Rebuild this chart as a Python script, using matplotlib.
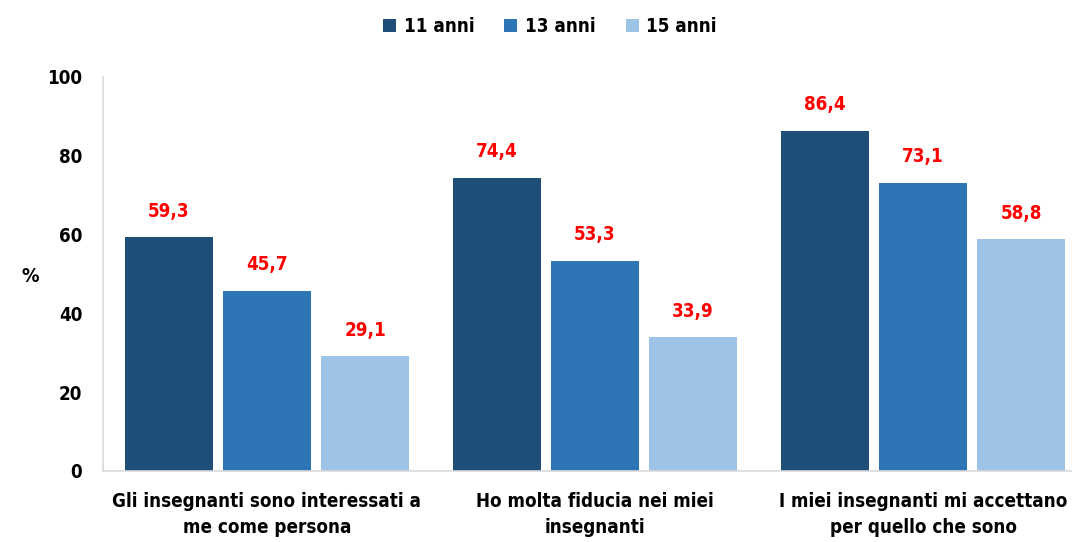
import numpy as np
import matplotlib
matplotlib.use("Agg")
import matplotlib.pyplot as plt

# data
categories = [
    "Gli insegnanti sono interessati a\nme come persona",
    "Ho molta fiducia nei miei\ninsegnanti",
    "I miei insegnanti mi accettano\nper quello che sono",
]
ages = ["11 anni", "13 anni", "15 anni"]
val_11 = [59.3, 74.4, 86.4]
val_13 = [45.7, 53.3, 73.1]
val_15 = [29.1, 33.9, 58.8]
yticks = [0, 20, 40, 60, 80, 100]

colors = ["#1F4E79", "#2E75B6", "#9DC3E6"]

plt.rcParams["font.family"] = ["DejaVu Sans"]
plt.rcParams["font.weight"] = "bold"
plt.rcParams["font.stretch"] = "condensed"

fig = plt.figure(figsize=(10.72, 5.42), dpi=100)
ax = fig.add_axes([0.096, 0.131, 0.905, 0.727])

x = np.arange(len(categories))
width = 0.268
step = 0.299
series = [val_11, val_13, val_15]
for i, (vals, lab, col) in enumerate(zip(series, ages, colors)):
    bars = ax.bar(x + (i - 1) * step, vals, width, color=col, label=lab, zorder=2)
    for b, v in zip(bars, vals):
        ax.annotate(f"{v:.1f}".replace(".", ","),
                    (b.get_x() + b.get_width() / 2, v),
                    xytext=(0, 12), textcoords="offset points",
                    ha="center", va="bottom", color="#FF0000",
                    fontsize=13.5, fontweight="bold")

ax.set_ylim(0, 100)
ax.set_xlim(-0.5, 2.457)
ax.set_yticks(yticks)
ax.set_yticklabels([str(t) for t in yticks], fontsize=13.5, fontweight="bold")
ax.set_xticks(x)
ax.set_xticklabels(categories, fontsize=13.5, fontweight="bold", linespacing=1.45)
ax.tick_params(axis="both", length=0)
ax.tick_params(axis="x", pad=15)
ax.tick_params(axis="y", pad=15)

for s in ["top", "right"]:
    ax.spines[s].set_visible(False)
for s in ["left", "bottom"]:
    ax.spines[s].set_color("#D9D9D9")
    ax.spines[s].set_linewidth(1.2)

fig.text(0.02, 0.49, "%", fontsize=14, fontweight="bold", ha="left", va="center")

fig.legend(loc="upper center", bbox_to_anchor=(0.513, 1.0), ncol=3, frameon=False,
           fontsize=13.5, handlelength=0.7, handleheight=0.7, handletextpad=0.4,
           columnspacing=1.6)

fig.savefig("out.png", dpi=100)
